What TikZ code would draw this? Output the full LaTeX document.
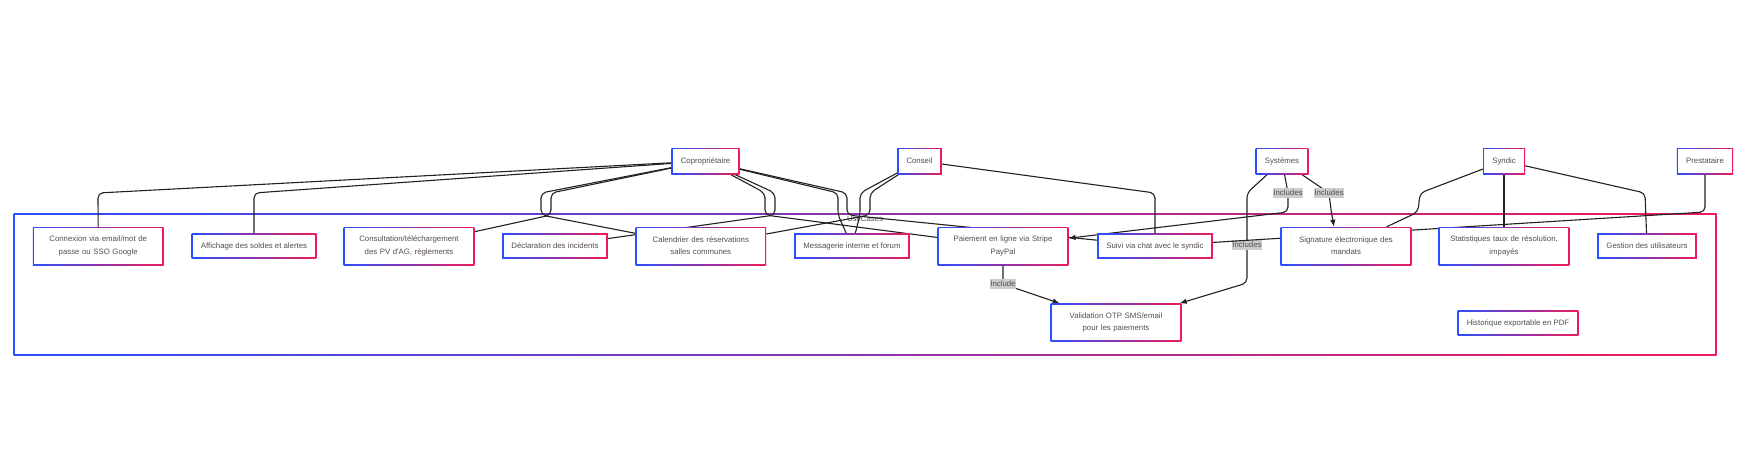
\documentclass[tikz,border=0pt]{standalone}
\usepackage{fontspec}
\setmainfont{Liberation Sans}
\usepackage{xcolor}
\usepackage{tikz}
\usetikzlibrary{positioning,arrows.meta}
\definecolor{ucblue}{HTML}{2B4EFF}
\definecolor{ucred}{HTML}{F01A5A}
\definecolor{uctext}{HTML}{574D4D}
\definecolor{lblgray}{HTML}{CCCCCC}
\definecolor{linecol}{HTML}{222222}
\pgfdeclarelayer{bg}
\pgfdeclarelayer{lines}
\pgfsetlayers{bg,lines,main}
\newcommand{\ucfont}{\fontsize{7.8}{12.3}\selectfont}

\begin{document}
\begin{tikzpicture}[x=1pt, y=-1pt,
  ucbox/.style={left color=ucblue, right color=ucred, inner xsep=9.3pt, inner ysep=0pt, text=uctext, font=\ucfont, align=center,
    path picture={\fill[white]([shift={(1.4pt,1.4pt)}]path picture bounding box.south west) rectangle ([shift={(-1.4pt,-1.4pt)}]path picture bounding box.north east);}},
  actor/.style={ucbox, minimum height=26pt},
  uc/.style={ucbox, minimum height=25pt},
  uc2/.style={ucbox, minimum height=38pt, text width=112pt},
  conn/.style={draw=linecol, line width=1.1pt, rounded corners=5pt},
  inc/.style={conn, -{Latex[length=7pt,width=5.5pt]}},
  lbl/.style={sharp corners, fill=lblgray, inner xsep=0.5pt, inner ysep=1pt, text height=6.2pt, text depth=1.6pt, text=uctext, font=\ucfont}]
\useasboundingbox (0,0) rectangle (1762,466);
\node[actor](copro) at (705.5,161) {Copropriétaire};
\node[actor](conseil) at (919.5,161) {Conseil};
\node[actor](systemes) at (1282,161) {Systèmes};
\node[actor](syndic) at (1504,161) {Syndic};
\node[actor](presta) at (1705,161) {Prestataire};
\node[uc2](connexion) at (98.2,246) {Connexion via email/mot de\\passe ou SSO Google};
\node[uc](affichage) at (254,246) {Affichage des soldes et alertes};
\node[uc2](consultation) at (409,246) {Consultation/téléchargement\\des PV d\textquotesingle AG, règlements};
\node[uc](declaration) at (555,246) {Déclaration des incidents};
\node[uc2](calendrier) at (700.8,246) {Calendrier des réservations\\salles communes};
\node[uc](messagerie) at (852,246) {Messagerie interne et forum};
\node[uc2](paiement) at (1003,246) {Paiement en ligne via Stripe\\PayPal};
\node[uc](suivi) at (1155,246) {Suivi via chat avec le syndic};
\node[uc2](signature) at (1346,246) {Signature électronique des\\mandats};
\node[uc2](statistiques) at (1504,246) {Statistiques taux de résolution,\\impayés};
\node[uc](gestion) at (1647,246) {Gestion des utilisateurs};
\node[uc2](validation) at (1116,322.5) {Validation OTP SMS/email\\pour les paiements};
\node[uc](historique) at (1518,323) {Historique exportable en PDF};
\begin{pgfonlayer}{bg}
\fill[white](0,0) rectangle (1762,466);
\node[ucbox, minimum width=1703pt, minimum height=142pt, inner sep=0pt](usecases) at (865,284.5) {};
\node[font=\ucfont, text=uctext, anchor=north, inner sep=0pt](ucttl) at (865,215.5) {UseCases};
\end{pgfonlayer}
\begin{pgfonlayer}{lines}
\draw[conn](copro) -- (98,193) -- (connexion);
\draw[conn](copro) -- (254,193) -- (affichage);
\draw[conn](copro) -- (551,193) -- (551,215) -- (consultation);
\draw[conn](copro) -- (541,193) -- (541,215) -- (calendrier);
\draw[conn](copro) -- (775,193) -- (775,215) -- (declaration);
\draw[conn](copro) -- (765,193) -- (765,215) -- (paiement);
\draw[conn](copro) -- (838,193) -- (838,215) -- (messagerie);
\draw[conn](copro) -- (847,193) -- (847,215) -- (suivi);
\draw[conn](conseil) -- (860,193) -- (860,215) -- (messagerie);
\draw[conn](conseil) -- (870,193) -- (870,215) -- (calendrier);
\draw[conn](conseil) -- (1155,193) -- (suivi);
\draw[inc](systemes) -- (1247,193) -- (1247,245) node[lbl]{Includes} -- (1247,283) -- (validation);
\draw[inc](systemes) -- (1288,193) node[lbl]{Includes} -- (1288,212) -- (paiement);
\draw[inc](systemes) -- (1329,193) node[lbl]{Includes} -- (1331,210) -- ([xshift=-12pt]signature.north);
\draw[inc](paiement) -- (1003,284) node[lbl]{Include} -- (validation);
\draw[conn](syndic) -- (1420,193) -- (1418,212) -- (signature);
\draw[conn](syndic) -- (statistiques);
\draw[conn](syndic) -- (1645,193) -- (gestion);
\draw[conn](presta) -- (1705,212) -- (suivi);
\end{pgfonlayer}
\end{tikzpicture}
\end{document}
